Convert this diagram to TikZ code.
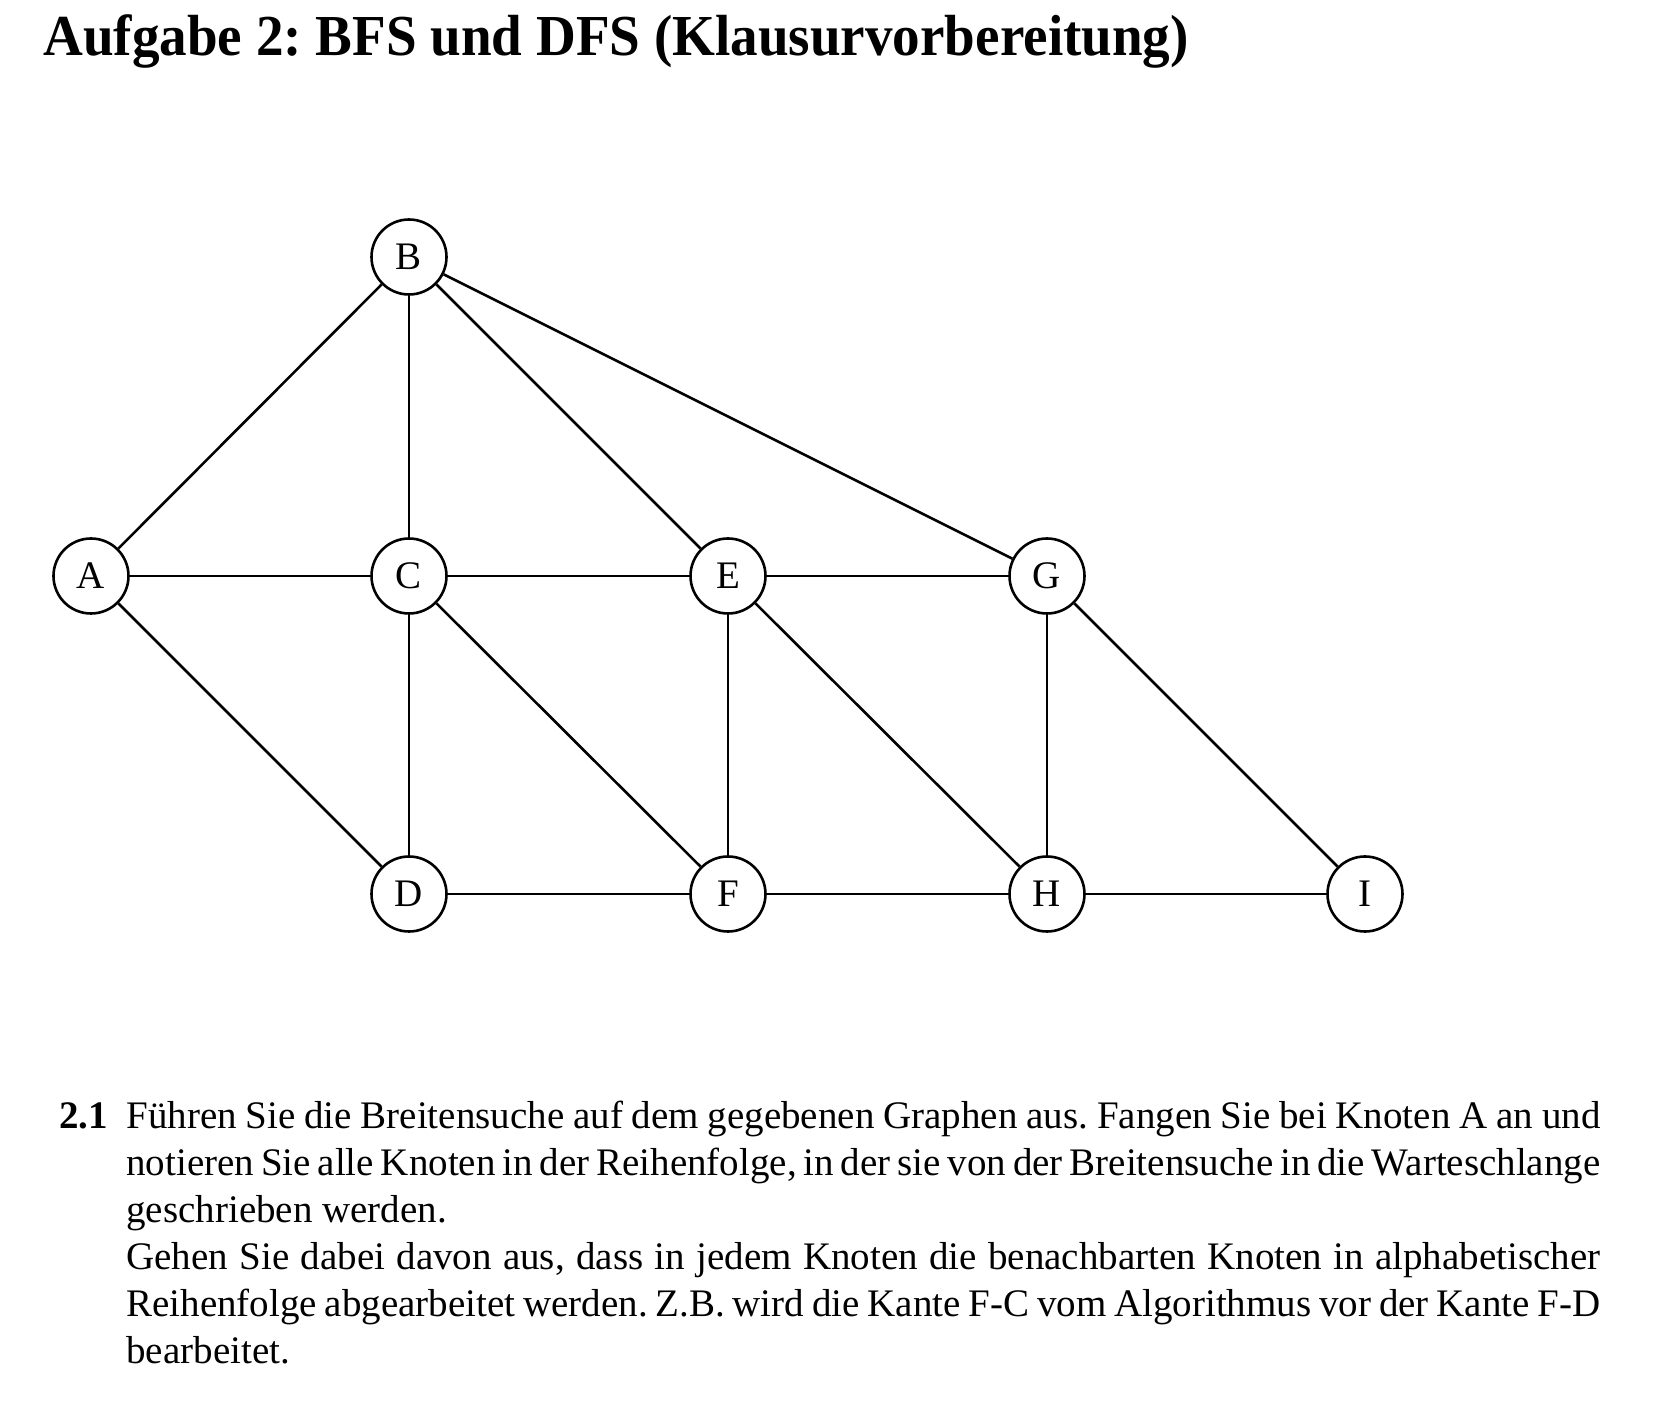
\documentclass[tikz,border=0pt]{standalone}
\usepackage{fontspec}
\setmainfont{Liberation Serif}
\newfontfamily\headfont[FakeStretch=0.95]{Liberation Serif}
\frenchspacing
\begin{document}
\begin{tikzpicture}[x=0.5pt, y=-0.5pt]
        \tikzset{
            vertex/.style={circle, draw, line width=1.3pt, minimum size=37.5pt, inner sep=0pt, font=\fontsize{19.5}{23.5}\selectfont},
            edge/.style={line width=1.3pt}
        }
        \useasboundingbox (0, 0) rectangle (1678, 1422);

        \node (title) at (43, 56) [anchor=base west, inner sep=0pt, font=\fontsize{29}{34}\selectfont\headfont\bfseries] {Aufgabe 2: BFS und DFS (Klausurvorbereitung)};

        \node (A) at (91, 576) [vertex] {A};
        \node (B) at (409, 257) [vertex] {B};
        \node (C) at (409, 576) [vertex] {C};
        \node (E) at (728, 576) [vertex] {E};
        \node (G) at (1047, 576) [vertex] {G};

        \node (D) at (409, 894) [vertex] {D};
        \node (F) at (728, 894) [vertex] {F};
        \node (H) at (1047, 894) [vertex] {H};
        \node (I) at (1365, 894) [vertex] {I};

        \draw[edge] (A) -- (B);
        \draw[edge] (A) -- (C);
        \draw[edge] (A) -- (D);
        \draw[edge] (B) -- (C);
        \draw[edge] (B) -- (E);
        \draw[edge] (B) -- (G);
        \draw[edge] (C) -- (E);
        \draw[edge] (C) -- (D);
        \draw[edge] (C) -- (F);
        \draw[edge] (E) -- (G);
        \draw[edge] (E) -- (F);
        \draw[edge] (E) -- (H);
        \draw[edge] (G) -- (H);
        \draw[edge] (G) -- (I);
        \draw[edge] (D) -- (F);
        \draw[edge] (F) -- (H);
        \draw[edge] (H) -- (I);

        \node (num) at (59, 1129) [anchor=base west, inner sep=0pt, font=\fontsize{19.5}{23.5}\selectfont\bfseries] {2.1};
        \node (task) at (126, 1129) [anchor=base west, inner sep=0pt, text width=737pt, align=justify, font=\fontsize{19.5}{23.5}\selectfont] {Führen Sie die Breitensuche auf dem gegebenen Graphen aus. Fangen Sie bei Knoten A an und\linebreak notieren Sie alle Knoten in der Reihenfolge, in der sie von der Breitensuche in die Warteschlange\linebreak geschrieben werden.\par
        Gehen Sie dabei davon aus, dass in jedem Knoten die benachbarten Knoten in alphabetischer\linebreak Reihenfolge abgearbeitet werden. Z.B. wird die Kante F-C vom Algorithmus vor der Kante F-D\linebreak bearbeitet.};

\end{tikzpicture}
\end{document}
